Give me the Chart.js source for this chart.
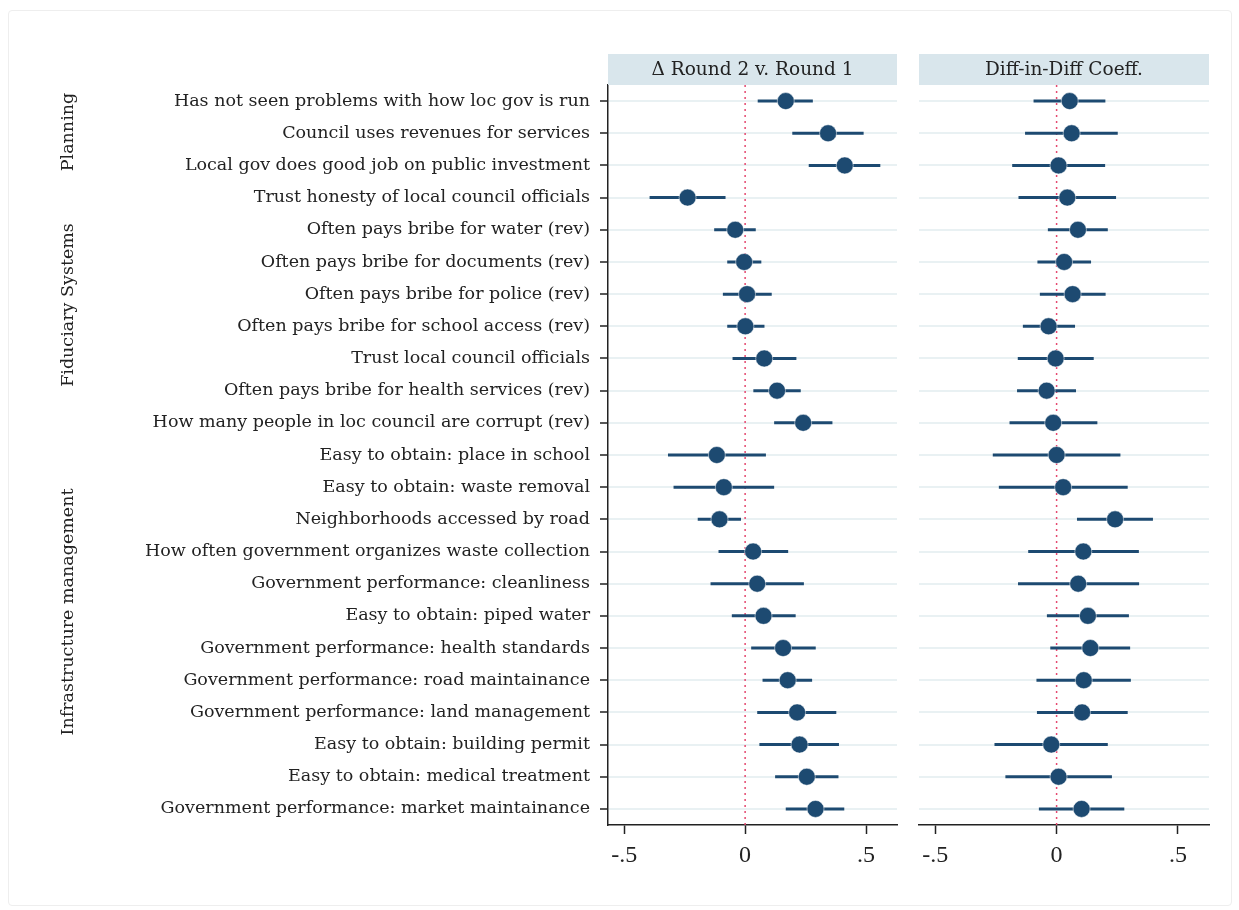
<!DOCTYPE html>
<html>
<head>
<meta charset="utf-8">
<script src="https://cdn.jsdelivr.net/npm/chart.js@4.4.1/dist/chart.umd.min.js"></script>
<style>
  body { margin: 0; background: #fff; }
  #wrap { position: relative; width: 1239px; height: 910px; }
  #frame { position: absolute; left: 8px; top: 10px; width: 1222px; height: 894px; border: 1px solid #eeeeee; border-radius: 4px; }
  #c1 { position: absolute; left: 0; top: 0; }
  #c2 { position: absolute; left: 905px; top: 0; }
</style>
</head>
<body>
<div id="wrap">
  <div id="frame"></div>
  <canvas id="c1" width="906" height="910"></canvas>
  <canvas id="c2" width="334" height="910"></canvas>
</div>
<script>
// categories, top to bottom
const labels = [
  "Has not seen problems with how loc gov is run",
  "Council uses revenues for services",
  "Local gov does good job on public investment",
  "Trust honesty of local council officials",
  "Often pays bribe for water (rev)",
  "Often pays bribe for documents (rev)",
  "Often pays bribe for police (rev)",
  "Often pays bribe for school access (rev)",
  "Trust local council officials",
  "Often pays bribe for health services (rev)",
  "How many people in loc council are corrupt (rev)",
  "Easy to obtain: place in school",
  "Easy to obtain: waste removal",
  "Neighborhoods accessed by road",
  "How often government organizes waste collection",
  "Government performance: cleanliness",
  "Easy to obtain: piped water",
  "Government performance: health standards",
  "Government performance: road maintainance",
  "Government performance: land management",
  "Easy to obtain: building permit",
  "Easy to obtain: medical treatment",
  "Government performance: market maintainance"
];

const groupNames = ["Planning", "Fiduciary Systems", "Infrastructure management"];

// Delta Round 2 v. Round 1
const roundEst = [0.168, 0.343, 0.412, -0.238, -0.041, -0.004, 0.008, 0.001, 0.079, 0.132, 0.240,
  -0.117, -0.088, -0.106, 0.033, 0.050, 0.076, 0.157, 0.176, 0.215, 0.225, 0.255, 0.291];
const roundLo = [0.052, 0.195, 0.263, -0.395, -0.128, -0.074, -0.092, -0.074, -0.052, 0.034, 0.120,
  -0.319, -0.296, -0.196, -0.110, -0.143, -0.055, 0.025, 0.072, 0.050, 0.059, 0.124, 0.168];
const roundHi = [0.280, 0.490, 0.559, -0.081, 0.044, 0.067, 0.110, 0.080, 0.212, 0.230, 0.361,
  0.086, 0.120, -0.017, 0.178, 0.243, 0.209, 0.292, 0.277, 0.377, 0.388, 0.386, 0.410];

// Diff-in-Diff coefficients
const didEst = [0.054, 0.062, 0.008, 0.044, 0.088, 0.031, 0.066, -0.033, -0.004, -0.041, -0.014,
  0.000, 0.027, 0.241, 0.110, 0.089, 0.129, 0.139, 0.112, 0.105, -0.022, 0.008, 0.103];
const didLo = [-0.095, -0.130, -0.183, -0.157, -0.036, -0.079, -0.069, -0.139, -0.160, -0.163, -0.194,
  -0.263, -0.238, 0.084, -0.117, -0.159, -0.040, -0.026, -0.083, -0.081, -0.256, -0.211, -0.073];
const didHi = [0.201, 0.252, 0.200, 0.245, 0.211, 0.142, 0.202, 0.076, 0.153, 0.080, 0.168,
  0.263, 0.293, 0.397, 0.339, 0.340, 0.298, 0.303, 0.306, 0.293, 0.211, 0.228, 0.279];

const xTicks = [-0.5, 0, 0.5];

const navy = "#1d4a71";
const serif = '"DejaVu Serif", "Liberation Serif", serif';
const tickFont = '"Liberation Serif", serif';
Chart.defaults.font.family = serif;
Chart.defaults.color = "#222";

// zero line, CIs and header bar
const panelPlugin = {
  id: "panel",
  beforeDatasetsDraw(chart, args, opts) {
    const ctx = chart.ctx, xs = chart.scales.x, ys = chart.scales.y, a = chart.chartArea;
    ctx.save();
    const x0 = xs.getPixelForValue(0);
    ctx.strokeStyle = "#e5496f";
    ctx.lineWidth = 1.5;
    ctx.setLineDash([2, 4]);
    ctx.beginPath();
    ctx.moveTo(x0, a.top);
    ctx.lineTo(x0, a.bottom);
    ctx.stroke();
    ctx.setLineDash([]);
    ctx.strokeStyle = navy;
    ctx.lineWidth = 3;
    opts.lo.forEach((lo, i) => {
      const y = ys.getPixelForValue(i);
      ctx.beginPath();
      ctx.moveTo(xs.getPixelForValue(lo), y);
      ctx.lineTo(xs.getPixelForValue(opts.hi[i]), y);
      ctx.stroke();
    });
    ctx.restore();
  },
  afterDraw(chart, args, opts) {
    const ctx = chart.ctx, a = chart.chartArea;
    ctx.save();
    ctx.fillStyle = "#d9e6ec";
    ctx.fillRect(a.left, 54, a.right - a.left, 31);
    ctx.fillStyle = "#222";
    ctx.font = "18.5px " + serif;
    ctx.textAlign = "center";
    ctx.textBaseline = "middle";
    ctx.fillText(opts.title, (a.left + a.right) / 2, 70);
    if (opts.groups) {
      ctx.font = "17.5px " + serif;
      opts.groups.forEach(g => {
        ctx.save();
        ctx.translate(68, g.y);
        ctx.rotate(-Math.PI / 2);
        ctx.fillText(g.text, 0, 0);
        ctx.restore();
      });
    }
    ctx.restore();
  }
};

function makeChart(id, est, lo, hi, title, left, right, withLabels) {
  return new Chart(document.getElementById(id), {
    type: "scatter",
    data: {
      datasets: [{
        data: est.map((v, i) => ({ x: v, y: labels[i] })),
        backgroundColor: navy,
        borderColor: "#fff",
        borderWidth: 0.5,
        pointRadius: 8.5
      }]
    },
    options: {
      responsive: false,
      animation: false,
      layout: { padding: { top: 85, left: left, right: right, bottom: 0 } },
      plugins: {
        legend: { display: false },
        tooltip: { enabled: false },
        panel: {
          lo: lo, hi: hi, title: title,
          groups: withLabels ? [
            { text: groupNames[0], y: 132 },
            { text: groupNames[1], y: 305 },
            { text: groupNames[2], y: 612 }
          ] : null
        }
      },
      scales: {
        x: {
          min: -0.567,
          max: 0.628,
          afterBuildTicks: s => { s.ticks = xTicks.map(v => ({ value: v })); },
          afterFit: s => { s.height = 85; },
          ticks: {
            font: { family: tickFont, size: 24 },
            color: "#222",
            padding: 7,
            callback: v => v === 0 ? "0" : (v < 0 ? "-" : "") + String(Math.abs(v)).replace("0.", ".")
          },
          grid: { drawOnChartArea: false, tickLength: 9, tickColor: "#222", tickWidth: 1.5 },
          border: { display: true, color: "#222", width: 1.5 }
        },
        y: {
          type: "category",
          labels: labels,
          offset: true,
          afterFit: s => { s.width = withLabels ? 608 : 0; },
          ticks: { display: withLabels, font: { size: 17.5 }, color: "#222", padding: 10 },
          grid: {
            color: "#e9f1f3",
            lineWidth: 2,
            tickLength: withLabels ? 8 : 0,
            tickColor: "#222",
            tickWidth: 1.5
          },
          border: { display: withLabels, color: "#222", width: 1.5 }
        }
      }
    },
    plugins: [panelPlugin]
  });
}

makeChart("c1", roundEst, roundLo, roundHi, "\u0394 Round 2 v. Round 1", 0, 3, true);
makeChart("c2", didEst, didLo, didHi, "Diff-in-Diff Coeff.", 14, 30, false);
</script>
</body>
</html>
